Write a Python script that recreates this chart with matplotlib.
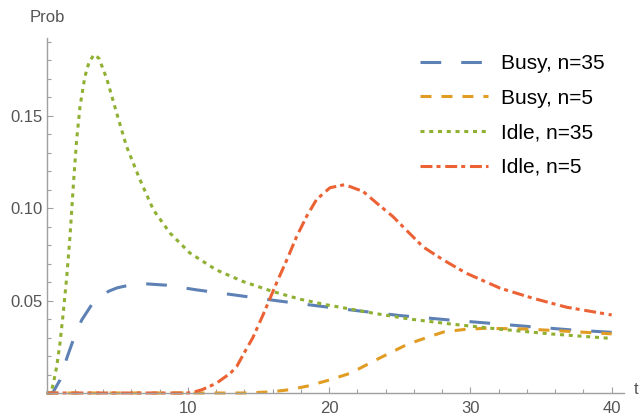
import matplotlib
matplotlib.use("Agg")
import matplotlib.pyplot as plt
from matplotlib.ticker import MultipleLocator, FixedLocator

plt.rcParams['font.family'] = ['Liberation Sans', 'DejaVu Sans']
plt.rcParams['lines.scale_dashes'] = False

# values
t_busy35 = [0, 0.3, 0.47, 0.94, 1.42, 1.88, 2.48, 3.18, 3.8, 4.4, 5.0, 5.66, 6.4, 7.1,
            8.5, 10.6, 13.6, 16.4, 19.2, 22.0, 25.0, 28.5, 31.4, 34.2, 37.0, 40]
p_busy35 = [0, 0, 0.0007, 0.007, 0.0188, 0.0287, 0.0395, 0.0477, 0.052, 0.0551, 0.0569,
            0.058, 0.0587, 0.059, 0.0583, 0.0558, 0.0527, 0.0498, 0.0471, 0.0445, 0.0419,
            0.0395, 0.0377, 0.0359, 0.0342, 0.0328]

t_busy5 = [0, 14.0, 15.0, 16.0, 17.2, 18.5, 20.0, 21.5, 23.6, 25.5, 26.9, 28.1, 29.7,
           31.1, 34.0, 36.8, 40]
p_busy5 = [0, 0, 0.0003, 0.0007, 0.0018, 0.0038, 0.0070, 0.0107, 0.0190, 0.0262, 0.0300,
           0.0330, 0.0345, 0.0350, 0.0346, 0.0334, 0.0320]

t_idle35 = [0, 0.3, 0.47, 0.71, 0.94, 1.17, 1.42, 1.65, 1.9, 2.12, 2.36, 2.7, 3.0, 3.35,
            3.7, 4.25, 4.95, 5.65, 6.6, 7.55, 8.73, 10.14, 12.0, 13.9, 16.0, 17.9, 19.8,
            23.1, 25.7, 28.5, 32.1, 35.6, 40]
p_idle35 = [0, 0, 0.0052, 0.0143, 0.0269, 0.0432, 0.063, 0.0847, 0.114, 0.137, 0.155,
            0.171, 0.179, 0.183, 0.181, 0.170, 0.1515, 0.1334, 0.1154, 0.0991, 0.0865,
            0.0757, 0.0666, 0.0603, 0.0549, 0.0508, 0.0477, 0.0432, 0.0400, 0.0374,
            0.0345, 0.0320, 0.0295]

t_idle5 = [0, 10.0, 10.4, 11.0, 12.0, 13.0, 13.45, 14.15, 14.6, 15.33, 16.3, 17.0, 17.7,
           18.4, 19.1, 19.6, 20.05, 21.1, 22.4, 23.35, 24.5, 25.5, 26.65, 28.07, 29.7,
           32.1, 34.4, 36.8, 40]
p_idle5 = [0, 0, 0.0005, 0.0018, 0.0052, 0.0107, 0.0143, 0.024, 0.030, 0.0425, 0.060,
           0.072, 0.0847, 0.0955, 0.1046, 0.108, 0.111, 0.1127, 0.109, 0.1028, 0.0955,
           0.0878, 0.079, 0.072, 0.0648, 0.0567, 0.0513, 0.0464, 0.0422]

labels = ["Busy, n=35", "Busy, n=5", "Idle, n=35", "Idle, n=5"]
colors = ["#5E81B5", "#E19C24", "#8FB032", "#EB6235"]

fig = plt.figure(figsize=(6.4, 4.18), dpi=100)
ax = fig.add_axes([46.7 / 640, 25 / 418, 577 / 640, 355 / 418])

lw = 2.2
ax.plot(t_busy35, p_busy35, color=colors[0], lw=lw, linestyle=(0, (14.9, 14.4)),
        dash_capstyle='butt', label=labels[0], clip_on=False)
ax.plot(t_busy5, p_busy5, color=colors[1], lw=lw, linestyle=(0, (7.9, 7.2)),
        dash_capstyle='butt', label=labels[1], clip_on=False)
ax.plot(t_idle35, p_idle35, color=colors[2], lw=lw, linestyle=(0, (2.9, 3.4)),
        dash_capstyle='butt', label=labels[2], clip_on=False)
ax.plot(t_idle5, p_idle5, color=colors[3], lw=lw, linestyle=(0, (8.6, 2.9, 2.9, 3.4)),
        dash_capstyle='butt', label=labels[3], clip_on=False)

ax.set_xlim(0, 40.85)
ax.set_ylim(0, 0.192)

for s in ['top', 'right']:
    ax.spines[s].set_visible(False)
for s in ['left', 'bottom']:
    ax.spines[s].set_color('#a0a0a0')
    ax.spines[s].set_linewidth(1.0)

ax.xaxis.set_major_locator(FixedLocator([10, 20, 30, 40]))
ax.xaxis.set_minor_locator(MultipleLocator(2))
ax.yaxis.set_major_locator(FixedLocator([0.05, 0.10, 0.15]))
ax.yaxis.set_minor_locator(MultipleLocator(0.01))
ax.set_yticklabels(["0.05", "0.10", "0.15"])
ax.tick_params(which='both', direction='in', color='#a0a0a0', labelcolor='#555555',
               labelsize=12)
ax.tick_params(which='major', length=4.5, width=0.8)
ax.tick_params(which='minor', length=2.8, width=0.8)
ax.tick_params(axis='x', pad=6)
ax.tick_params(axis='y', pad=3)

fig.text(47 / 640, 1 - 17 / 418, "Prob", ha='center', va='center', color='#555555',
         fontsize=12)
fig.text(634 / 640, 1 - 390 / 418, "t", ha='left', va='center', color='#555555',
         fontsize=12)

ax.legend(loc='upper left', bbox_to_anchor=(420 / 640, 1 - 54 / 418),
          bbox_transform=fig.transFigure, frameon=False, fontsize=15,
          borderpad=0, borderaxespad=0, labelspacing=0.75, handlelength=3.27,
          handletextpad=0.63)

fig.savefig("out.png", dpi=100)
